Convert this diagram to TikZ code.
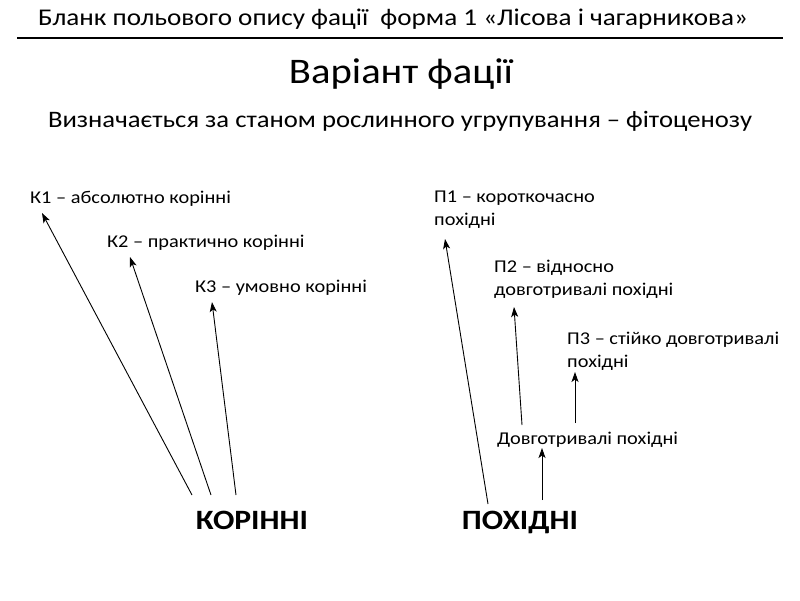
\documentclass[tikz,border=0pt]{standalone}
\usepackage{fontspec}
\setmainfont{Carlito}[FakeStretch=1.13]
\usetikzlibrary{arrows.meta}
\begin{document}
\begin{tikzpicture}[x=1pt,y=-1pt,
  lbl/.style={anchor=base west, inner sep=0pt, font=\fontsize{18}{23}\selectfont, align=left},
  big/.style={anchor=base, inner sep=0pt, font=\fontsize{28}{32}\selectfont\bfseries},
  arr/.style={-{Stealth[length=10pt,width=7pt,inset=2.5pt]}, line width=0.9pt}]
\useasboundingbox (0,0) rectangle (800,600);
\node[anchor=base, inner sep=0pt, font=\fontsize{24}{28}\selectfont] (title) at (393,25) {Бланк польового опису фації \ форма 1 «Лісова і чагарникова»};
\coordinate (rl) at (17,38);
\coordinate (rr) at (783,38);
\draw[line width=1.5pt] (rl) -- (rr);
\node[anchor=base, inner sep=0pt, font=\fontsize{36}{40}\selectfont] (var) at (401,83) {Варіант фації};
\node[anchor=base, inner sep=0pt, font=\fontsize{23.6}{28}\selectfont] (sub) at (400,127) {Визначається за станом рослинного угрупування – фітоценозу};

\node[lbl] (k1) at (30,203) {К1 – абсолютно корінні};
\node[lbl] (k2) at (107,247) {К2 – практично корінні};
\node[lbl] (k3) at (195,292) {К3 – умовно корінні};
\node[lbl] (p1) at (434,225) {П1 – короткочасно\\похідні};
\node[lbl] (p2) at (494,295) {П2 – відносно\\довготривалі похідні};
\node[lbl] (p3) at (567,367) {П3 – стійко довготривалі\\похідні};
\node[lbl] (dp) at (497,444) {Довготривалі похідні};

\node[big] (kor) at (252,529) {КОРІННІ};
\node[big] (poh) at (520,529) {ПОХІДНІ};

\coordinate (k1s) at (192,495);
\coordinate (k2s) at (211,495);
\coordinate (k3s) at (236,495);
\coordinate (k1t) at (42,213);
\coordinate (k2t) at (130,257);
\coordinate (k3t) at (212,302);
\draw[arr] (k1s) -- (k1t);
\draw[arr] (k2s) -- (k2t);
\draw[arr] (k3s) -- (k3t);

\coordinate (p1s) at (488,504);
\coordinate (p1t) at (445,239);
\coordinate (p2s) at (522,425);
\coordinate (p2t) at (514,307);
\coordinate (p3s) at (575,423);
\coordinate (p3t) at (575,372);
\coordinate (dps) at (542,500);
\coordinate (dpt) at (542,448);
\draw[arr] (p1s) -- (p1t);
\draw[arr] (p2s) -- (p2t);
\draw[arr] (p3s) -- (p3t);
\draw[arr] (dps) -- (dpt);
\end{tikzpicture}
\end{document}
